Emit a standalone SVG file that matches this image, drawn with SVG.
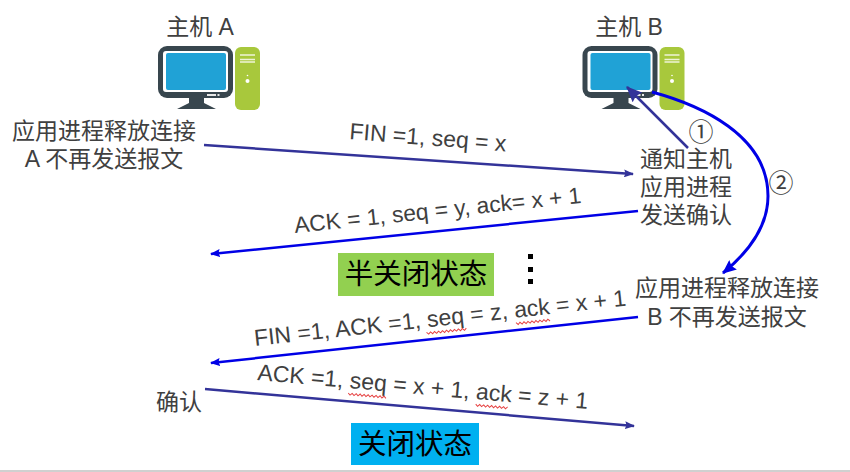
<svg xmlns="http://www.w3.org/2000/svg" width="850" height="472" viewBox="0 0 850 472">
<defs>
<marker id="ah" viewBox="0 0 10 8" refX="9" refY="4" markerWidth="10" markerHeight="8" markerUnits="userSpaceOnUse" orient="auto"><path d="M0 0L10 4L0 8L1.500 4Z" fill="#333399"/></marker>
<marker id="ab" viewBox="0 0 10 8" refX="9" refY="4" markerWidth="10" markerHeight="8" markerUnits="userSpaceOnUse" orient="auto"><path d="M0 0L10 4L0 8L1.500 4Z" fill="#0000e6"/></marker>
<marker id="ah2" viewBox="0 0 14 12" refX="13" refY="6" markerWidth="16" markerHeight="14" markerUnits="userSpaceOnUse" orient="auto"><path d="M0 0L14 6L0 12L2 6Z" fill="#333399"/></marker>
<marker id="ab2" viewBox="0 0 14 12" refX="13" refY="6" markerWidth="14" markerHeight="12" markerUnits="userSpaceOnUse" orient="auto"><path d="M0 0L14 6L0 12L2 6Z" fill="#0000e6"/></marker>
<g id="pc">
<rect x="18" y="46" width="75" height="52" rx="9" fill="#38464e"/>
<rect x="23" y="51" width="65" height="41" rx="3" fill="#fff"/>
<rect x="26" y="53" width="60" height="37" rx="2" fill="#20a2d6"/>
<path d="M49 98H64V103L76 109H37L49 103Z" fill="#38464e"/>
<rect x="67" y="94" width="9" height="2" fill="#e8e8e8"/><rect x="77.500" y="94" width="2" height="2" fill="#e8e8e8"/>
<rect x="95" y="47" width="25" height="63" rx="6" fill="#a8c83c"/>
<path d="M100 55H115M100 59.500H115M100 62H115" stroke="#eef3d6" stroke-width="1.500" fill="none"/>
<circle cx="107.500" cy="81" r="2" fill="#fff"/><circle cx="107.500" cy="75.500" r="0.800" fill="#fff"/>
</g>
</defs>
<style>
text{font-family:"Liberation Sans","Noto Sans CJK SC",sans-serif;fill:#404040;font-size:23px}
.m{text-anchor:middle}
.n{font-size:25px}
.k{fill:#000;font-size:28.500px;text-anchor:middle}
.sq{fill:none;stroke:#e64040;stroke-width:1}
</style>
<rect x="0" y="470" width="850" height="2" fill="#d0d0d0"/>
<g id="host-a"><text class="m" x="200" y="35">主机 A</text><use href="#pc" x="140" y="0"/></g>
<g id="host-b"><text class="m" x="629" y="35">主机 B</text><use href="#pc" x="564.500" y="0"/></g>
<g id="connectors" fill="none">
<path d="M204 145L633 174" stroke="#333399" stroke-width="2.500" marker-end="url(#ah)"/>
<path d="M638 211L211 254" stroke="#0000e6" stroke-width="2.500" marker-end="url(#ab)"/>
<path d="M638 317L211 363" stroke="#0000e6" stroke-width="2.500" marker-end="url(#ab)"/>
<path d="M205 389L634 426" stroke="#333399" stroke-width="2.500" marker-end="url(#ah)"/>
<path d="M688 148L627 87" stroke="#333399" stroke-width="2.500" marker-end="url(#ah2)"/>
<path d="M652 92C700 105 768 135 768 196C768 230 745 255 723 273" stroke="#0000e6" stroke-width="3" marker-end="url(#ab2)"/>
</g>
<g id="label-1"><text class="m n" x="701" y="140.500">①</text></g>
<g id="label-2"><text class="m n" x="781" y="192">②</text></g>
<g id="note-a-close"><text class="m" x="104" y="139">应用进程释放连接</text><text class="m" x="104" y="167">A 不再发送报文</text></g>
<g id="note-b-notify"><text class="m" x="686" y="167">通知主机</text><text class="m" x="686" y="195">应用进程</text><text class="m" x="686" y="223">发送确认</text></g>
<g id="note-b-close"><text class="m" x="727" y="296">应用进程释放连接</text><text class="m" x="727" y="325">B 不再发送报文</text></g>
<g id="note-a-ack"><text class="m" x="179" y="410">确认</text></g>
<text transform="translate(349 139) rotate(4.500)">FIN =1, seq = x</text>
<text transform="translate(295 233) rotate(-6)" style="font-size:22.800px">ACK = 1, seq = y, ack= x + 1</text>
<g transform="translate(255 346) rotate(-6.200)"><text>FIN =1, ACK =1, seq = z, ack = x + 1</text>
<path class="sq" d="M172 5l2 2 2-2 2 2 2-2 2 2 2-2 2 2 2-2 2 2 2-2 2 2 2-2 2 2 2-2 2 2 2-2 2 2 2-2 2 2 2-2"/>
<path class="sq" d="M262 5l2 2 2-2 2 2 2-2 2 2 2-2 2 2 2-2 2 2 2-2 2 2 2-2 2 2 2-2 2 2 2-2 2 2"/></g>
<g transform="translate(257 380) rotate(5)"><text>ACK =1, seq = x + 1, ack = z + 1</text>
<path class="sq" d="M92 5l2 2 2-2 2 2 2-2 2 2 2-2 2 2 2-2 2 2 2-2 2 2 2-2 2 2 2-2 2 2 2-2 2 2 2-2 2 2"/>
<path class="sq" d="M220 5l2 2 2-2 2 2 2-2 2 2 2-2 2 2 2-2 2 2 2-2 2 2 2-2 2 2 2-2 2 2 2-2"/></g>
<g id="state-half"><rect x="338" y="253" width="156" height="43" fill="#92d050"/><text class="k" x="416" y="284">半关闭状态</text></g>
<g id="state-closed"><rect x="351" y="423" width="128" height="42" fill="#00b0f0"/><text class="k" x="415" y="454">关闭状态</text></g>
<g id="dots" fill="#000"><rect x="528" y="254" width="5" height="5"/><rect x="528" y="267" width="5" height="5"/><rect x="528" y="279" width="5" height="5"/></g>
</svg>
